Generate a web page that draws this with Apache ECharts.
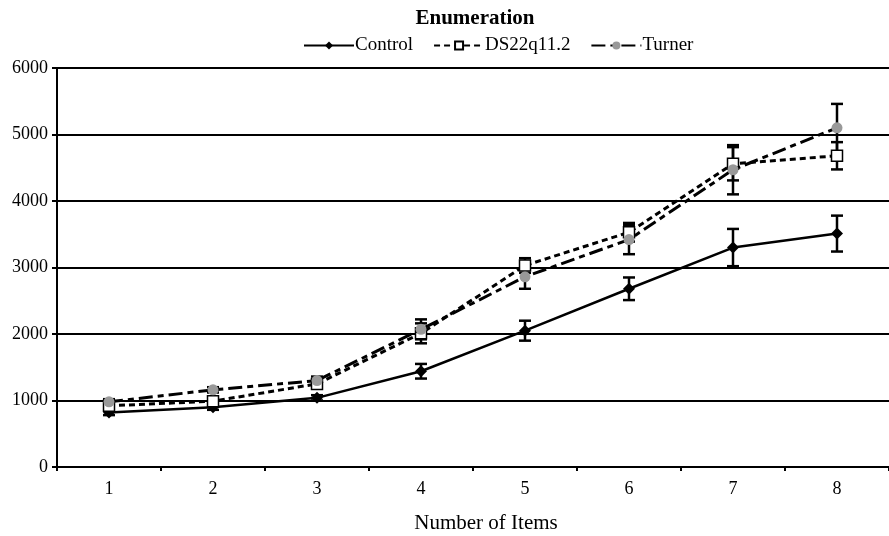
<!DOCTYPE html>
<html>
<head>
<meta charset="utf-8">
<script src="https://cdn.jsdelivr.net/npm/echarts@6/dist/echarts.min.js"></script>
<style>
  html, body { margin: 0; padding: 0; background: #fff; }
  #chart { width: 889px; height: 536px; }
</style>
</head>
<body>
<div id="chart"></div>
<script>
// data
const categories = ['1', '2', '3', '4', '5', '6', '7', '8'];
const controlValues = [820, 900, 1040, 1440, 2050, 2680, 3300, 3510];
const controlErr = [40, 40, 40, 110, 150, 170, 280, 270];
const dsValues = [920, 990, 1250, 2010, 3030, 3530, 4560, 4680];
const dsErr = [40, 40, 60, 150, 110, 140, 250, 205];
const turnerValues = [980, 1160, 1300, 2070, 2860, 3420, 4470, 5100];
const turnerErr = [40, 40, 60, 150, 180, 220, 370, 360];
const yTicks = [0, 1000, 2000, 3000, 4000, 5000, 6000];

const serif = 'Liberation Serif';

const chart = echarts.init(document.getElementById('chart'));

// error bars drawn as custom series (vertical line + caps)
const errorSeries = (name, vals, errs) => ({
  name: name + '-err',
  type: 'custom',
  silent: true,
  z: 1,
  data: vals.map((v, i) => [i, v - errs[i], v + errs[i]]),
  renderItem: (params, api) => {
    const lo = api.coord([api.value(0), api.value(1)]);
    const hi = api.coord([api.value(0), api.value(2)]);
    const w = 6;
    const style = { stroke: '#000', lineWidth: 2.5 };
    return {
      type: 'group',
      children: [
        { type: 'line', shape: { x1: lo[0], y1: lo[1], x2: hi[0], y2: hi[1] }, style },
        { type: 'line', shape: { x1: lo[0] - w, y1: lo[1], x2: lo[0] + w, y2: lo[1] }, style },
        { type: 'line', shape: { x1: hi[0] - w, y1: hi[1], x2: hi[0] + w, y2: hi[1] }, style }
      ]
    };
  }
});

const option = {
  animation: false,
  backgroundColor: '#fff',
  title: {
    text: 'Enumeration',
    left: 470,
    textAlign: 'center',
    top: 3,
    textStyle: { fontFamily: serif, fontSize: 21, fontWeight: 'bold', color: '#000' }
  },
  legend: {
    data: ['Control', 'DS22q11.2', 'Turner'],
    top: 31,
    left: 298,
    itemWidth: 50,
    itemHeight: 10,
    itemGap: 20,
    textStyle: { fontFamily: serif, fontSize: 19, color: '#000', padding: [0, 0, 0, -4] }
  },
  grid: { left: 57, right: 0, top: 68, bottom: 69, outerBoundsMode: 'none' },
  xAxis: {
    type: 'category',
    data: categories,
    boundaryGap: true,
    name: 'Number of Items',
    nameLocation: 'middle',
    nameGap: 46,
    nameTextStyle: { fontFamily: serif, fontSize: 21, color: '#000', padding: [0, 0, 0, 26] },
    axisLine: { lineStyle: { color: '#000', width: 2 } },
    axisTick: { show: true, length: 4, lineStyle: { color: '#000', width: 2 } },
    axisLabel: { fontFamily: serif, fontSize: 18, color: '#000', margin: 13 }
  },
  yAxis: {
    type: 'value',
    min: yTicks[0],
    max: yTicks[yTicks.length - 1],
    interval: 1000,
    axisLine: { show: true, lineStyle: { color: '#000', width: 2 } },
    axisTick: { show: true, length: 5, lineStyle: { color: '#000', width: 2 } },
    axisLabel: { fontFamily: serif, fontSize: 18, color: '#000', margin: 9, formatter: v => String(v) },
    splitLine: { show: true, lineStyle: { color: '#000', width: 1.8 } }
  },
  series: [
    errorSeries('Control', controlValues, controlErr),
    errorSeries('DS22q11.2', dsValues, dsErr),
    errorSeries('Turner', turnerValues, turnerErr),
    {
      name: 'Control',
      type: 'line',
      data: controlValues,
      z: 3,
      symbol: 'diamond',
      symbolSize: 12,
      itemStyle: { color: '#000' },
      lineStyle: { color: '#000', width: 2.5 }
    },
    {
      name: 'DS22q11.2',
      type: 'line',
      data: dsValues,
      z: 4,
      symbol: 'rect',
      symbolSize: 11,
      itemStyle: { color: '#fff', borderColor: '#000', borderWidth: 1.5 },
      lineStyle: { color: '#000', width: 3, type: [6, 4] }
    },
    {
      name: 'Turner',
      type: 'line',
      data: turnerValues,
      z: 5,
      symbol: 'circle',
      symbolSize: 11,
      itemStyle: { color: '#999' },
      lineStyle: { color: '#000', width: 3, type: [14, 5, 6, 5] }
    }
  ]
};

chart.setOption(option);
</script>
</body>
</html>
